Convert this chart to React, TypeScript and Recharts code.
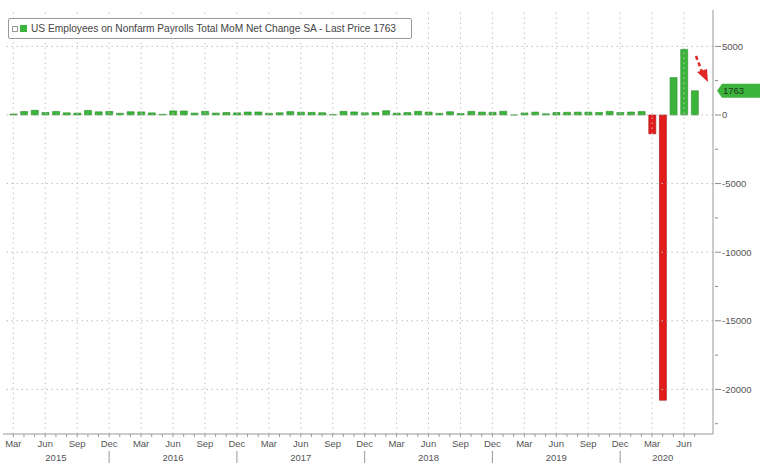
import React from 'react';
import { BarChart, Bar, XAxis, YAxis, Cell, ReferenceLine } from 'recharts';

// monthly change in nonfarm payrolls, thousands
const monthNames = ['Jan', 'Feb', 'Mar', 'Apr', 'May', 'Jun', 'Jul', 'Aug', 'Sep', 'Oct', 'Nov', 'Dec'];
const payrolls2015 = [70, 251, 339, 182, 257, 157, 137, 333, 231, 258]; // from Mar
const payrolls2016 = [126, 237, 225, 153, 43, 297, 291, 135, 265, 137, 180, 155];
const payrolls2017 = [216, 219, 124, 162, 247, 206, 189, 164, 18, 262, 220, 159];
const payrolls2018 = [176, 311, 135, 175, 267, 212, 119, 236, 107, 262, 208, 195];
const payrolls2019 = [269, 1, 147, 210, 85, 182, 194, 207, 208, 185, 261, 184];
const payrolls2020 = [214, 251, -1373, -20787, 2725, 4781, 1763]; // to Jul

const series = [
  { year: 2015, start: 2, values: payrolls2015 },
  { year: 2016, start: 0, values: payrolls2016 },
  { year: 2017, start: 0, values: payrolls2017 },
  { year: 2018, start: 0, values: payrolls2018 },
  { year: 2019, start: 0, values: payrolls2019 },
  { year: 2020, start: 0, values: payrolls2020 },
];

const quarterMonths = ['Mar', 'Jun', 'Sep', 'Dec'];
const yTicks = [5000, 2500, 0, -2500, -5000, -7500, -10000, -12500, -15000, -17500, -20000, -22500];
const gridValues = [5000, 0, -5000, -10000, -15000, -20000];
const lastPrice = 1763;
const title = 'US Employees on Nonfarm Payrolls Total MoM Net Change SA - Last Price 1763';

const data: { month: string; value: number }[] = [];
series.forEach(({ year, start, values }) =>
  values.forEach((v, i) => data.push({ month: `${monthNames[start + i]} ${year}`, value: v }))
);

// index at which each year's label is drawn (middle of that year's data)
const yearLabelIdx: Record<number, number> = {};
{
  let idx = 0;
  series.forEach(({ year, values }) => {
    yearLabelIdx[idx + Math.floor((values.length - 1) / 2)] = year;
    idx += values.length;
  });
}

const GREEN = '#3cb43c';
const RED = '#e31b1b';
const FONT = '"Liberation Sans", Arial, sans-serif';
const LABEL = '#555';

const XTick = (props: any) => {
  const { x, y, payload, index } = props;
  const [m] = String(payload.value).split(' ');
  const year = yearLabelIdx[index];
  return (
    <g>
      {quarterMonths.includes(m) && (
        <text x={x} y={y + 8} textAnchor="middle" fontSize={9.5} fill={LABEL} fontFamily={FONT}>
          {m}
        </text>
      )}
      {m === 'Dec' && <line x1={x} x2={x} y1={y + 12} y2={y + 24} stroke="#999" />}
      {year !== undefined && (
        <text x={x} y={y + 22} textAnchor="middle" fontSize={9.5} fill={LABEL} fontFamily={FONT}>
          {year}
        </text>
      )}
    </g>
  );
};

const YTick = (props: any) => {
  const { x, y, payload } = props;
  const major = payload.value % 5000 === 0;
  return (
    <g>
      <line x1={x} x2={x + (major ? 6 : 3)} y1={y} y2={y} stroke="#888" />
      {major && (
        <text x={x + 7} y={y + 3.5} fontSize={9.5} fill={LABEL} fontFamily={FONT}>
          {payload.value}
        </text>
      )}
    </g>
  );
};

const PriceTag = (props: any) => {
  const { viewBox } = props;
  const x = viewBox.x + viewBox.width + 4;
  const y = viewBox.y;
  return (
    <g>
      <polygon
        points={`${x},${y} ${x + 5},${y - 7} ${x + 43},${y - 7} ${x + 43},${y + 7} ${x + 5},${y + 7}`}
        fill={GREEN}
      />
      <text x={x + 6} y={y + 3.5} fontSize={9.5} fill="#1a3a1a" fontFamily={FONT}>
        {lastPrice}
      </text>
    </g>
  );
};

export default function App() {
  return (
    <div style={{ position: 'absolute', left: 0, top: 0, width: 760, height: 469, background: '#fff' }}>
      <BarChart
        width={760}
        height={469}
        data={data}
        margin={{ top: 10, right: 0, left: 3, bottom: 0 }}
        barSize={7}
      >
        <XAxis
          dataKey="month"
          interval={0}
          tick={<XTick />}
          tickSize={3}
          tickLine={{ stroke: '#999' }}
          axisLine={{ stroke: '#999' }}
          height={35}
          padding={{ left: 5, right: 13 }}
        />
        <YAxis
          orientation="right"
          width={47}
          domain={[-23250, 7650]}
          ticks={yTicks}
          interval={0}
          tick={<YTick />}
          tickLine={false}
          tickSize={0}
          axisLine={{ stroke: '#999' }}
        />
        {gridValues.map((v) => (
          <ReferenceLine key={`h${v}`} y={v} stroke="#bdbdbd" strokeDasharray="1.5 3.5" />
        ))}
        {data
          .filter((d) => quarterMonths.includes(d.month.split(' ')[0]))
          .map((d) => (
            <ReferenceLine key={`v${d.month}`} x={d.month} stroke="#c4c4c4" strokeDasharray="1.5 3.5" />
          ))}
        <Bar dataKey="value" isAnimationActive={false} strokeWidth={0.6}>
          {data.map((d) => (
            <Cell
              key={d.month}
              fill={d.value < 0 ? RED : GREEN}
              stroke={d.value < 0 ? '#a01010' : '#2a8f2a'}
            />
          ))}
        </Bar>
        <ReferenceLine y={lastPrice} stroke="none" ifOverflow="visible" label={<PriceTag />} />
      </BarChart>

      {/* legend box */}
      <div
        style={{
          position: 'absolute',
          left: 8,
          top: 18,
          width: 404,
          height: 21,
          border: '1px solid #9a9a9a',
          borderRadius: 2,
          background: '#fff',
          boxSizing: 'border-box',
          display: 'flex',
          alignItems: 'center',
          fontFamily: FONT,
          fontSize: 10.2,
          color: '#444',
          whiteSpace: 'nowrap',
        }}
      >
        <span style={{ width: 4, height: 4, border: '1px solid #999', marginLeft: 3, marginRight: 2 }} />
        <span style={{ width: 7, height: 7, background: GREEN, marginRight: 4 }} />
        <span>{title}</span>
      </div>

      {/* red dashed arrow annotation */}
      <svg style={{ position: 'absolute', left: 0, top: 0 }} width={760} height={469} pointerEvents="none">
        <line x1={696} y1={56} x2={702} y2={72} stroke="#e02828" strokeWidth={2.5} strokeDasharray="4 3" />
        <polygon points="697,72 708,82 707,69" fill="#e02828" />
      </svg>
    </div>
  );
}
